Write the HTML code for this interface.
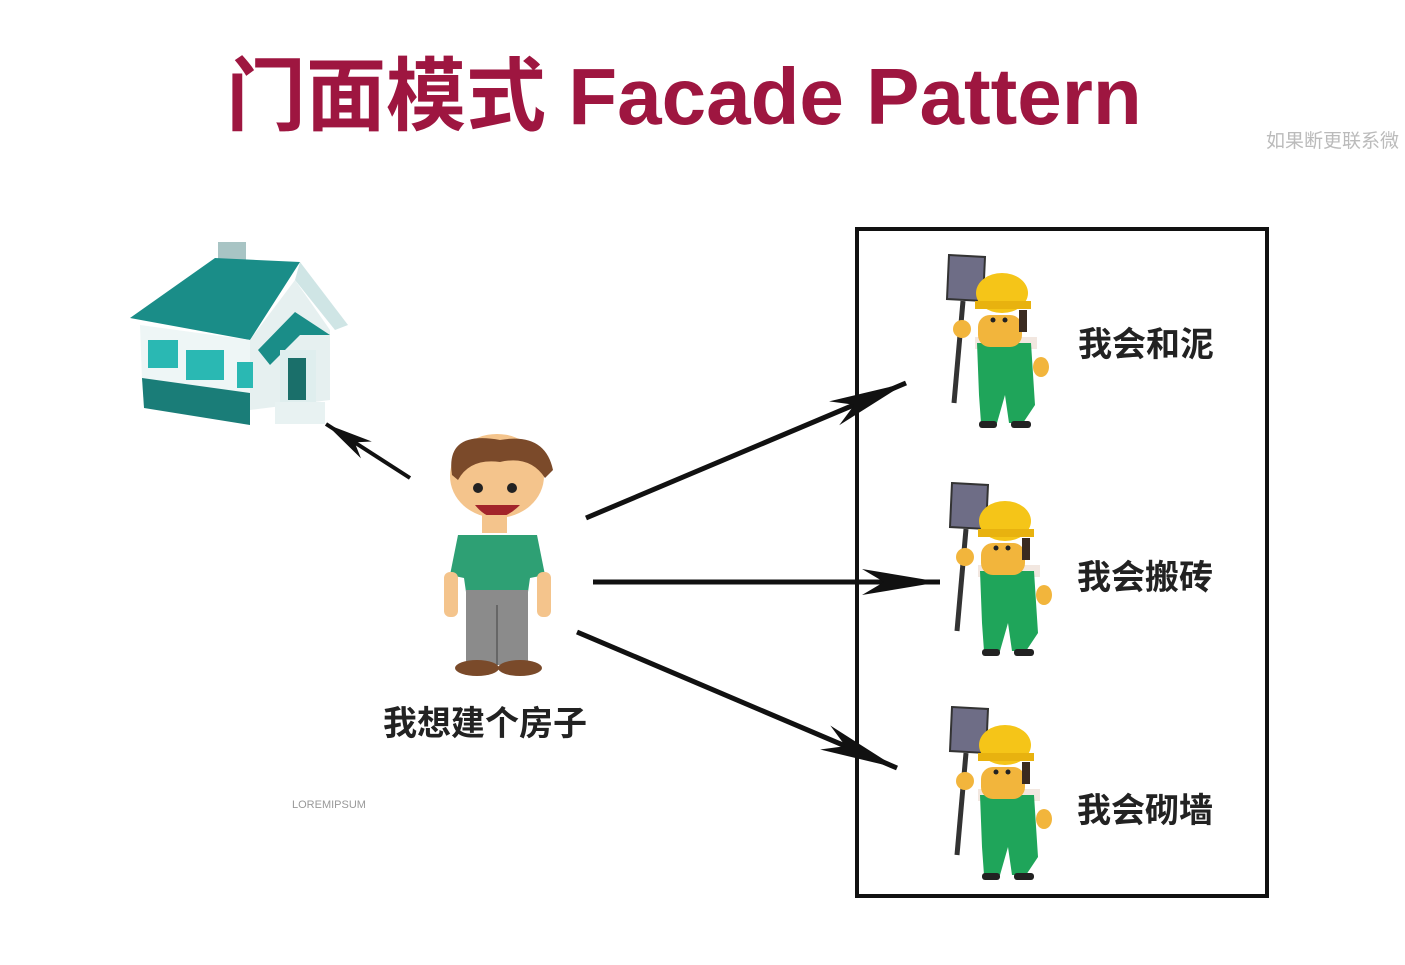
<!DOCTYPE html>
<html><head><meta charset="utf-8"><style>
html,body{margin:0;padding:0;background:#fff;}
body{width:1405px;height:965px;overflow:hidden;position:relative;font-family:"Liberation Sans","Noto Sans CJK SC",sans-serif;}
.t{position:absolute;white-space:nowrap;}
</style></head><body>
<div class="t" style="left:226px;top:32px;font-size:80px;font-weight:bold;color:#9e1640;letter-spacing:0px;">门面模式 Facade Pattern</div>
<div class="t" style="left:1266px;top:126px;font-size:19px;color:#bbb;">如果断更联系微</div>
<svg width="1405" height="965" style="position:absolute;left:0;top:0">
<defs>
<g id="w">
 <polygon points="4,0 40,2 38,46 2,44" fill="#6e6d86" stroke="#333" stroke-width="2"/>
 <line x1="18" y1="46" x2="9" y2="148" stroke="#333" stroke-width="5"/>
 <rect x="30" y="82" width="62" height="12" fill="#f2e7e0"/>
 <path d="M32,88 L86,88 L90,150 L78,168 L64,168 L60,140 L52,168 L36,168 L34,140 Z" fill="#1fa55a"/>
 <rect x="33" y="60" width="44" height="32" rx="12" fill="#f2b53c"/>
 <ellipse cx="57" cy="38" rx="26" ry="20" fill="#f5c518"/>
 <rect x="30" y="46" width="56" height="8" fill="#e8b20f"/>
 <circle cx="48" cy="65" r="2.5" fill="#222"/><circle cx="60" cy="65" r="2.5" fill="#222"/>
 <rect x="74" y="55" width="8" height="22" fill="#3a2a20"/>
 <ellipse cx="17" cy="74" rx="9" ry="9" fill="#f2b53c"/>
 <ellipse cx="96" cy="112" rx="8" ry="10" fill="#f2b53c"/>
 <rect x="34" y="166" width="18" height="7" rx="3" fill="#222"/>
 <rect x="66" y="166" width="20" height="7" rx="3" fill="#222"/>
</g>
<marker id="ah" markerWidth="80" markerHeight="30" refX="78" refY="15" orient="auto" markerUnits="userSpaceOnUse">
 <path d="M0,2 L78,15 L0,28 L22,15 Z" fill="#111"/>
</marker>
<marker id="ah2" markerWidth="50" markerHeight="24" refX="48" refY="12" orient="auto" markerUnits="userSpaceOnUse">
 <path d="M0,2 L48,12 L0,22 L14,12 Z" fill="#111"/>
</marker>
</defs>
<rect x="857" y="229" width="410" height="667" fill="none" stroke="#111" stroke-width="4"/>
<use href="#w" x="945" y="255"/>
<use href="#w" x="948" y="483"/>
<use href="#w" x="948" y="707"/>
<rect x="218" y="242" width="28" height="20" fill="#a8c4c4"/>
<polygon points="130,318 215,258 300,262 250,340" fill="#1a8d88"/>
<polygon points="300,262 348,325 335,330 295,280" fill="#cfe5e5"/>
<polygon points="140,325 250,340 250,395 142,380" fill="#eef6f6"/>
<polygon points="250,340 295,280 330,330 330,400 250,410" fill="#e6f0f0"/>
<polygon points="142,378 250,393 250,425 144,408" fill="#1a7d78"/>
<rect x="148" y="340" width="30" height="28" fill="#2ab8b3"/>
<rect x="186" y="350" width="38" height="30" fill="#2ab8b3"/>
<rect x="237" y="362" width="16" height="26" fill="#2ab8b3"/>
<polygon points="258,350 295,312 330,335 300,335 270,365" fill="#1a8d88"/>
<rect x="280" y="350" width="36" height="52" fill="#dfeeee"/>
<rect x="288" y="358" width="18" height="42" fill="#1a6f6a"/>
<rect x="275" y="402" width="50" height="22" fill="#e8f2f2"/>
<ellipse cx="497" cy="476" rx="47" ry="42" fill="#f4c48c"/>
<path d="M452,475 Q445,430 500,440 Q545,432 553,470 L545,478 Q530,455 500,462 Q470,458 458,480 Z" fill="#7b4a2a"/>
<circle cx="478" cy="488" r="5" fill="#222"/><circle cx="512" cy="488" r="5" fill="#222"/>
<path d="M475,505 Q495,530 520,505 Z" fill="#a3242a"/>
<rect x="482" y="515" width="25" height="18" fill="#f4c48c"/>
<path d="M458,535 L537,535 L545,575 L530,578 L528,592 L466,592 L464,578 L450,575 Z" fill="#2ea074"/>
<rect x="444" y="572" width="14" height="45" rx="6" fill="#f4c48c"/>
<rect x="537" y="572" width="14" height="45" rx="6" fill="#f4c48c"/>
<rect x="466" y="590" width="62" height="75" fill="#8b8b8b"/>
<line x1="497" y1="605" x2="497" y2="665" stroke="#666" stroke-width="2"/>
<ellipse cx="477" cy="668" rx="22" ry="8" fill="#7a4a2a"/>
<ellipse cx="520" cy="668" rx="22" ry="8" fill="#7a4a2a"/>
<line x1="410" y1="478" x2="326" y2="424" stroke="#111" stroke-width="4" marker-end="url(#ah2)"/>
<line x1="586" y1="518" x2="906" y2="383" stroke="#111" stroke-width="5" marker-end="url(#ah)"/>
<line x1="593" y1="582" x2="940" y2="582" stroke="#111" stroke-width="5" marker-end="url(#ah)"/>
<line x1="577" y1="632" x2="897" y2="768" stroke="#111" stroke-width="5" marker-end="url(#ah)"/>
</svg>
<div class="t" style="left:1078px;top:317px;font-size:34px;font-weight:bold;color:#222;">我会和泥</div>
<div class="t" style="left:1077px;top:550px;font-size:34px;font-weight:bold;color:#222;">我会搬砖</div>
<div class="t" style="left:1077px;top:783px;font-size:34px;font-weight:bold;color:#222;">我会砌墙</div>
<div class="t" style="left:383px;top:696px;font-size:34px;font-weight:bold;color:#222;">我想建个房子</div>
<div class="t" style="left:292px;top:799px;font-size:11px;color:#999;">LOREMIPSUM</div>
</body></html>
